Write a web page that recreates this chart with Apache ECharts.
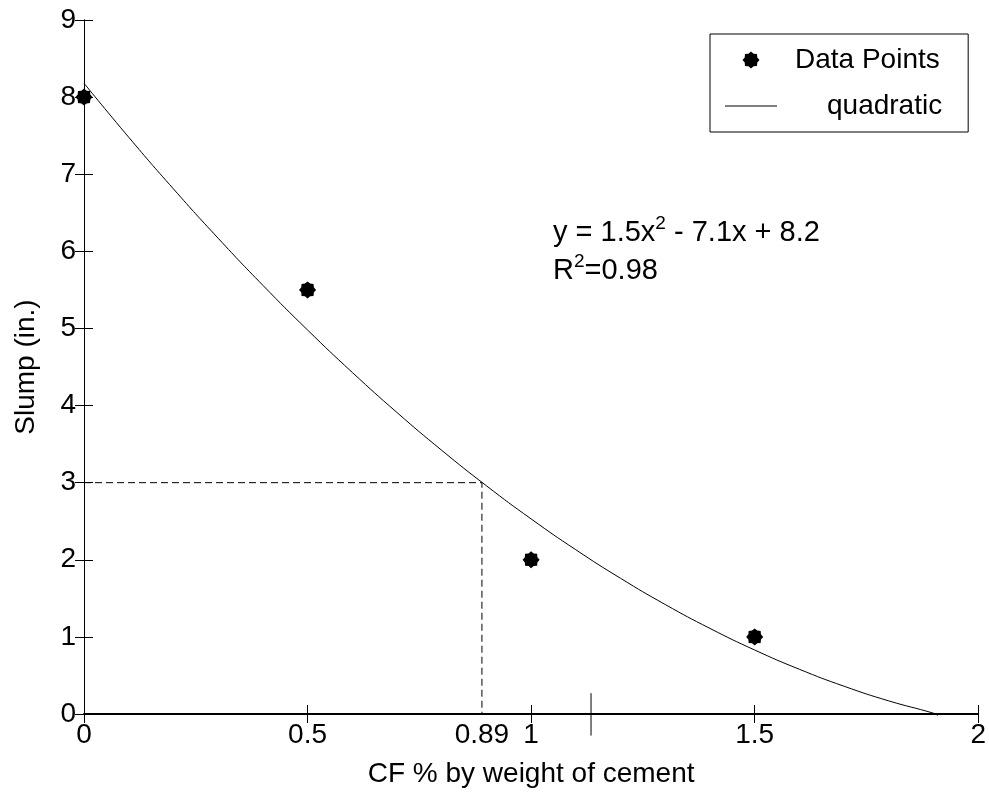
<!DOCTYPE html>
<html>
<head>
<meta charset="utf-8">
<title>Slump vs CF</title>
<script src="https://cdn.jsdelivr.net/npm/echarts@6/dist/echarts.min.js"></script>
<style>
    html, body { margin: 0; padding: 0; background: #fff; }
    #chart { width: 989px; height: 793px; }
</style>
</head>
<body>
<div id="chart"></div>
<script>
// 测量点
const pointX = [0, 0.5, 1, 1.5];
const pointY = [8, 5.5, 2, 1];

// 拟合曲线
const curveX = [0, 0.1, 0.2, 0.3, 0.4, 0.5, 0.6, 0.7, 0.8, 0.9, 1.0,
                1.1, 1.2, 1.3, 1.4, 1.5, 1.6, 1.7, 1.8, 1.9, 1.91];
const curveY = [8.18, 7.48, 6.81, 6.17, 5.56, 4.98, 4.43, 3.91, 3.42, 2.96, 2.53,
                2.13, 1.76, 1.42, 1.11, 0.83, 0.58, 0.36, 0.17, 0.01, -0.02];

// 虚线辅助线 (Slump = 3 -> CF = 0.89)
const guideX = [0, 0.89, 0.89];
const guideY = [3, 3, 0];

// 额外刻度标签
const extraTickX = [0.89];
const extraTickLabels = ['0.89'];

// 底部那条多余的短竖线
const strayX = [1.134, 1.134];
const strayY = [-0.28, 0.27];

const xTicks = { min: 0, max: 2, interval: 0.5 };
const yTicks = { min: 0, max: 9, interval: 1 };

const FONT = '"Liberation Sans", Arial, sans-serif';
const FS = 28;

/**
 * 生成星号形状的路径
 */
function asteriskPath() {
    const pts = [];
    const n = 8;
    for (let i = 0; i < n * 2; i++) {
        const r = i % 2 === 0 ? 10 : 8;
        const a = Math.PI * i / n - Math.PI / 2;
        pts.push((10 + r * Math.cos(a)).toFixed(2) + ',' + (10 + r * Math.sin(a)).toFixed(2));
    }
    return 'path://M' + pts.join('L') + 'Z';
}

const chart = echarts.init(document.getElementById('chart'));

const axisText = { color: '#000', fontFamily: FONT, fontSize: FS };

const option = {
    animation: false,
    backgroundColor: '#fff',
    grid: { left: 84, right: 9, top: 20, bottom: 75 },
    legend: {
        orient: 'vertical',
        left: 710,
        top: 34,
        padding: [12, 26, 12, 15],
        itemWidth: 52,
        itemHeight: 17,
        itemGap: 18,
        borderColor: '#000',
        borderWidth: 1,
        backgroundColor: '#fff',
        textStyle: { color: '#000', fontFamily: FONT, fontSize: FS },
        data: [
            { name: 'Data Points', textStyle: { padding: [0, 0, 0, 13] } },
            {
                name: 'quadratic',
                icon: 'path://M0,0L52,0L52,1L0,1Z',
                itemStyle: { color: '#000' },
                textStyle: { padding: [0, 0, 0, 45] }
            }
        ]
    },
    xAxis: [{
        type: 'value',
        min: xTicks.min, max: xTicks.max, interval: xTicks.interval,
        name: 'CF % by weight of cement',
        nameLocation: 'middle',
        nameGap: 46,
        nameTextStyle: axisText,
        axisLine: { show: true, lineStyle: { color: '#000', width: 2 } },
        axisTick: { show: true, inside: true, length: 9, lineStyle: { color: '#000' } },
        axisLabel: Object.assign({ margin: 7, formatter: v => String(v) }, axisText),
        splitLine: { show: false }
    }, {
        type: 'value',
        position: 'top',
        min: xTicks.min, max: xTicks.max, interval: xTicks.interval,
        axisLine: { show: true, lineStyle: { color: '#000', width: 1 } },
        axisTick: { show: true, inside: true, length: 9, lineStyle: { color: '#000' } },
        axisLabel: { show: false },
        splitLine: { show: false }
    }],
    yAxis: [{
        type: 'value',
        min: yTicks.min, max: yTicks.max, interval: yTicks.interval,
        name: 'Slump (in.)',
        nameLocation: 'middle',
        nameGap: 44,
        nameTextStyle: axisText,
        axisLine: { show: true, lineStyle: { color: '#000', width: 1 } },
        axisTick: { show: true, inside: true, length: 9, lineStyle: { color: '#000' } },
        axisLabel: Object.assign({ margin: 8 }, axisText),
        splitLine: { show: false }
    }, {
        type: 'value',
        position: 'right',
        min: yTicks.min, max: yTicks.max, interval: yTicks.interval,
        axisLine: { show: true, lineStyle: { color: '#000', width: 1 } },
        axisTick: { show: true, inside: true, length: 9, lineStyle: { color: '#000' } },
        axisLabel: { show: false },
        splitLine: { show: false }
    }],
    graphic: [{
        type: 'text',
        left: 553,
        top: 214,
        style: {
            text: '{a|y = 1.5x}{s|2}{a| - 7.1x + 8.2}\n{a|R}{s|2}{a|=0.98}',
            fill: '#000',
            rich: {
                a: { fontFamily: FONT, fontSize: 29, lineHeight: 38, color: '#000' },
                s: { fontFamily: FONT, fontSize: 19, lineHeight: 38, color: '#000', padding: [0, 0, 18, 0] }
            }
        }
    }],
    series: [
        {
            name: 'quadratic',
            type: 'line',
            data: curveX.map((x, i) => [x, curveY[i]]),
            smooth: true,
            showSymbol: false,
            symbol: 'none',
            clip: false,
            lineStyle: { color: '#000', width: 1 },
            itemStyle: { color: '#000' },
            z: 3
        },
        {
            name: 'guide',
            type: 'line',
            data: guideX.map((x, i) => [x, guideY[i]]),
            symbol: 'none',
            lineStyle: { color: '#000', width: 1, type: [7, 4] },
            silent: true,
            z: 2
        },
        {
            name: 'stray',
            type: 'line',
            data: strayX.map((x, i) => [x, strayY[i]]),
            symbol: 'none',
            clip: false,
            lineStyle: { color: '#000', width: 1 },
            silent: true,
            z: 2
        },
        {
            name: 'extraTick',
            type: 'scatter',
            data: extraTickX.map(x => [x, 0]),
            symbolSize: 0,
            clip: false,
            silent: true,
            itemStyle: { opacity: 1 },
            label: {
                show: true,
                position: 'bottom',
                distance: 7,
                formatter: p => extraTickLabels[p.dataIndex],
                color: '#000',
                fontFamily: FONT,
                fontSize: FS
            }
        },
        {
            name: 'Data Points',
            type: 'scatter',
            data: pointX.map((x, i) => [x, pointY[i]]),
            symbol: asteriskPath(),
            symbolSize: 17,
            clip: false,
            itemStyle: { color: '#000', opacity: 1 },
            z: 5
        }
    ]
};

chart.setOption(option);
</script>
</body>
</html>
